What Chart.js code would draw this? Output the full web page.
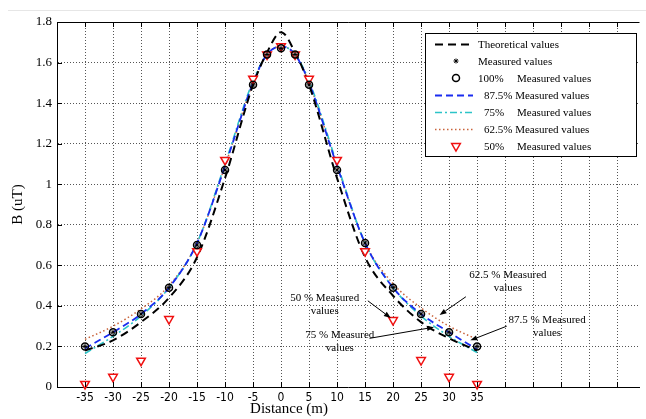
<!DOCTYPE html>
<html>
<head>
<meta charset="utf-8">
<script src="https://cdn.jsdelivr.net/npm/chart.js@4.4.1/dist/chart.umd.min.js"></script>
<style>
  html, body { margin: 0; padding: 0; background: #fff; }
  #wrap { width: 646px; height: 419px; }
</style>
</head>
<body>
<div id="wrap"><canvas id="fieldChart" width="646" height="419"></canvas></div>
<script>
// Distance along the line (m) and field values B (uT)
const distances = [-35, -30, -25, -20, -15, -10, -5, -2.5, 0, 2.5, 5, 10, 15, 20, 25, 30, 35];
const theoretical = [0.18, 0.23, 0.32, 0.44, 0.64, 1.03, 1.49, 1.65, 1.75, 1.65, 1.49, 1.03, 0.64, 0.45, 0.32, 0.24, 0.18];
const measured = [0.20, 0.27, 0.36, 0.49, 0.70, 1.07, 1.49, 1.64, 1.67, 1.64, 1.49, 1.07, 0.71, 0.49, 0.36, 0.27, 0.20];
const fit875 = [0.19, 0.27, 0.36, 0.49, 0.71, 1.09, 1.50, 1.64, 1.68, 1.64, 1.50, 1.09, 0.71, 0.49, 0.36, 0.27, 0.185];
const fit75 = [0.165, 0.25, 0.35, 0.49, 0.71, 1.10, 1.51, 1.64, 1.68, 1.64, 1.51, 1.10, 0.71, 0.49, 0.35, 0.25, 0.17];
const fit625 = [0.235, 0.30, 0.385, 0.50, 0.71, 1.09, 1.50, 1.64, 1.68, 1.64, 1.50, 1.09, 0.71, 0.51, 0.39, 0.30, 0.235];
const measured50 = [0.015, 0.05, 0.13, 0.335, 0.67, 1.12, 1.52, 1.64, 1.68, 1.64, 1.52, 1.12, 0.67, 0.33, 0.133, 0.05, 0.015];

const xTickMin = -35, xTickMax = 35;
const yTicks = [0, 0.2, 0.4, 0.6, 0.8, 1, 1.2, 1.4, 1.6, 1.8];

// Callout labels: text lines, text centre, arrow tail and tip (data units)
const callouts = [
  { lines: ['62.5 % Measured', 'values'], at: [40.5, 0.55], from: [33, 0.445], to: [28.3, 0.355] },
  { lines: ['87.5 % Measured', 'values'], at: [47.5, 0.33], from: [40.3, 0.30], to: [33.8, 0.23] },
  { lines: ['50 % Measured', 'values'], at: [7.8, 0.44], from: [15.5, 0.425], to: [19.6, 0.34] },
  { lines: ['75 % Measured', 'values'], at: [10.5, 0.255], from: [15.8, 0.24], to: [27.3, 0.295] }
];

const pts = ys => distances.map((x, i) => ({ x, y: ys[i] }));
const serif = '"Liberation Serif", "Times New Roman", serif';

const datasets = [
  { label: 'Theoretical values', data: pts(theoretical), showLine: true, pointRadius: 0,
    borderColor: '#000', borderWidth: 2, borderDash: [8, 5], cubicInterpolationMode: 'monotone', order: 1 },
  { label: 'Measured values', data: pts(measured), showLine: false, pointStyle: 'star', clip: false,
    pointRadius: 2.5, borderColor: '#000', backgroundColor: 'rgba(0,0,0,0)', borderWidth: 1, order: 0 },
  { label: '100%', data: pts(measured), showLine: false, pointStyle: 'circle', clip: false,
    pointRadius: 3.5, borderColor: '#000', backgroundColor: 'rgba(0,0,0,0)', borderWidth: 1.5, order: 0 },
  { label: '87.5% Measured values', data: pts(fit875), showLine: true, pointRadius: 0,
    borderColor: '#1a2cf0', borderWidth: 1.8, borderDash: [7, 4], cubicInterpolationMode: 'monotone', order: 2 },
  { label: '75%', data: pts(fit75), showLine: true, pointRadius: 0,
    borderColor: '#2cc4c8', borderWidth: 1.6, borderDash: [7, 3, 2, 3], cubicInterpolationMode: 'monotone', order: 3 },
  { label: '62.5% Measured values', data: pts(fit625), showLine: true, pointRadius: 0,
    borderColor: '#c9643c', borderWidth: 1.5, borderDash: [1.5, 2.5], cubicInterpolationMode: 'monotone', order: 4 },
  { label: '50%', data: pts(measured50), showLine: false, pointStyle: 'triangle', rotation: 180, clip: false,
    pointRadius: 5, borderColor: '#f01010', backgroundColor: '#fff', borderWidth: 1.5, order: 0 }
];

// Legend rows: dataset index, then [text, x offset from box left]
const legendRows = [
  [0, [['Theoretical values', 53]]],
  [1, [['Measured values', 53]]],
  [2, [['100%', 53], ['Measured values', 92]]],
  [3, [['87.5% Measured values', 59]]],
  [4, [['75%', 59], ['Measured values', 92]]],
  [5, [['62.5% Measured values', 59]]],
  [6, [['50%', 59], ['Measured values', 92]]]
];

function arrow(ctx, x0, y0, x1, y1) {
  const a = Math.atan2(y1 - y0, x1 - x0), h = 7, w = 2.6;
  ctx.beginPath();
  ctx.moveTo(x0, y0);
  ctx.lineTo(x1 - h * Math.cos(a), y1 - h * Math.sin(a));
  ctx.stroke();
  ctx.beginPath();
  ctx.moveTo(x1, y1);
  ctx.lineTo(x1 - h * Math.cos(a) + w * Math.sin(a), y1 - h * Math.sin(a) - w * Math.cos(a));
  ctx.lineTo(x1 - h * Math.cos(a) - w * Math.sin(a), y1 - h * Math.sin(a) + w * Math.cos(a));
  ctx.closePath();
  ctx.fill();
}

const framePlugin = {
  id: 'frame',
  beforeDraw(chart) {
    const ctx = chart.ctx;
    ctx.save();
    ctx.strokeStyle = '#e6e6e6';
    ctx.beginPath();
    ctx.moveTo(8, 10.5);
    ctx.lineTo(chart.width, 10.5);
    ctx.stroke();
    ctx.restore();
  },
  afterDraw(chart) {
    const { ctx, chartArea: ca, scales } = chart;
    ctx.save();
    // top border and inward tick marks
    ctx.strokeStyle = '#000';
    ctx.lineWidth = 1;
    ctx.beginPath();
    ctx.moveTo(ca.left, ca.top + 0.5);
    ctx.lineTo(ca.right, ca.top + 0.5);
    scales.x.ticks.forEach(t => {
      const px = Math.round(scales.x.getPixelForValue(t.value)) + 0.5;
      ctx.moveTo(px, ca.bottom); ctx.lineTo(px, ca.bottom - 5);
      ctx.moveTo(px, ca.top); ctx.lineTo(px, ca.top + 5);
    });
    scales.y.ticks.forEach(t => {
      const py = Math.round(scales.y.getPixelForValue(t.value)) + 0.5;
      ctx.moveTo(ca.left, py); ctx.lineTo(ca.left + 5, py);
    });
    ctx.stroke();

    // axis titles
    ctx.fillStyle = '#000';
    ctx.font = '15px ' + serif;
    ctx.textAlign = 'center';
    ctx.textBaseline = 'middle';
    ctx.fillText('Distance (m)', 289, 409);
    ctx.save();
    ctx.translate(18, (ca.top + ca.bottom) / 2);
    ctx.rotate(-Math.PI / 2);
    ctx.fillText('B (uT)', 0, 0);
    ctx.restore();

    // callouts
    ctx.font = '11px ' + serif;
    ctx.lineWidth = 1;
    callouts.forEach(c => {
      const cx = scales.x.getPixelForValue(c.at[0]);
      const cy = scales.y.getPixelForValue(c.at[1]);
      c.lines.forEach((s, i) => ctx.fillText(s, cx, cy + i * 13));
      arrow(ctx,
        scales.x.getPixelForValue(c.from[0]), scales.y.getPixelForValue(c.from[1]),
        scales.x.getPixelForValue(c.to[0]), scales.y.getPixelForValue(c.to[1]));
    });

    // legend box
    const bx = 425, by = 33, bw = 211, bh = 123, rowH = 17;
    ctx.fillStyle = '#fff';
    ctx.fillRect(bx, by, bw, bh);
    ctx.strokeRect(bx + 0.5, by + 0.5, bw, bh);
    ctx.textAlign = 'left';
    legendRows.forEach(([di, parts], r) => {
      const ds = chart.data.datasets[di];
      const y = by + 11 + r * rowH;
      ctx.save();
      ctx.strokeStyle = ds.borderColor;
      ctx.lineWidth = ds.borderWidth;
      if (ds.showLine) {
        ctx.setLineDash(ds.borderDash);
        ctx.beginPath();
        ctx.moveTo(bx + 10, y + 0.5);
        ctx.lineTo(bx + 48, y + 0.5);
        ctx.stroke();
      } else {
        ctx.fillStyle = ds.backgroundColor;
        Chart.helpers.drawPoint(ctx, {
          pointStyle: ds.pointStyle, rotation: ds.rotation || 0,
          radius: ds.pointRadius, borderWidth: ds.borderWidth
        }, bx + 31, y);
      }
      ctx.restore();
      ctx.fillStyle = '#000';
      ctx.textBaseline = 'middle';
      parts.forEach(([s, off]) => ctx.fillText(s, bx + off, y + 1));
    });
    ctx.restore();
  }
};

new Chart(document.getElementById('fieldChart'), {
  type: 'scatter',
  data: { datasets },
  options: {
    responsive: false,
    animation: false,
    devicePixelRatio: 1,
    // the plot runs off the right edge of the canvas
    layout: { padding: { top: 22, right: -5, left: 0, bottom: 0 } },
    plugins: { legend: { display: false }, tooltip: { enabled: false } },
    scales: {
      x: {
        type: 'linear', min: -40, max: 64,
        afterBuildTicks: s => { s.ticks = s.ticks.filter(t => t.value % 5 === 0); },
        afterFit: s => { s.height = 32; s.paddingRight = 0; s.paddingLeft = 0; },
        ticks: {
          stepSize: 5, padding: 4, color: '#000', maxRotation: 0, autoSkip: false,
          font: { family: '"DejaVu Sans Condensed", "DejaVu Sans", sans-serif', size: 12 },
          callback: v => (v >= xTickMin && v <= xTickMax) ? String(v) : ''
        },
        grid: { color: '#555', lineWidth: 1, drawTicks: false },
        border: { display: true, color: '#000', width: 1, dash: [1, 2] }
      },
      y: {
        min: 0, max: 1.8,
        afterBuildTicks: s => { s.ticks = yTicks.map(v => ({ value: v })); },
        afterFit: s => { s.width = 57; },
        ticks: {
          padding: 5, color: '#000',
          font: { family: serif, size: 13 },
          callback: v => String(Math.round(v * 10) / 10)
        },
        grid: { color: '#555', lineWidth: 1, drawTicks: false },
        border: { display: true, color: '#000', width: 1, dash: [1, 2] }
      }
    }
  },
  plugins: [framePlugin]
});
</script>
</body>
</html>
